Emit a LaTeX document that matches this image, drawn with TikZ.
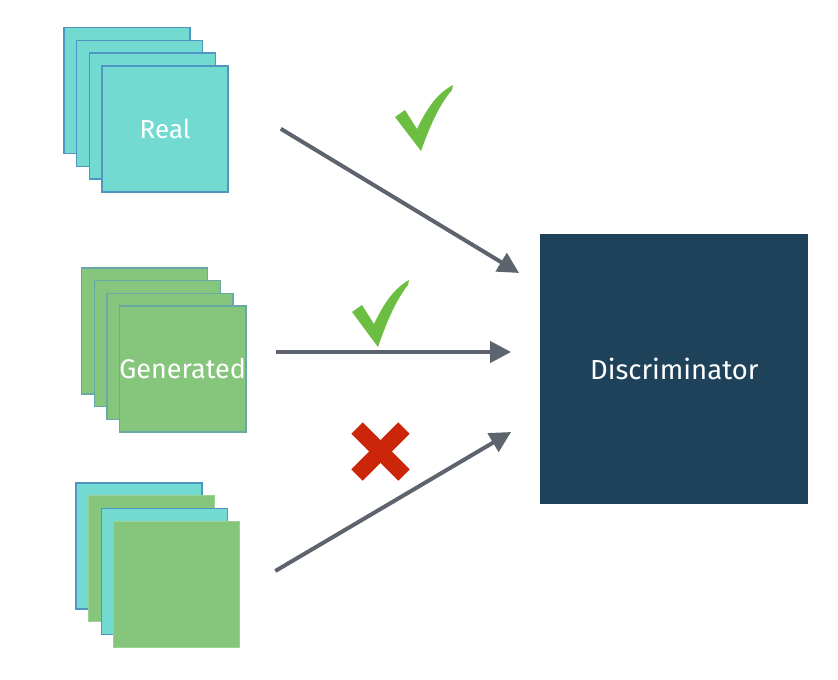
\documentclass[tikz,border=0pt]{standalone}
\usepackage{fontspec}
\setmainfont{Fira Sans}
\usepackage{tikz}
\usetikzlibrary{arrows.meta, calc}
\definecolor{realcyan}{RGB}{114,218,208}
\definecolor{fakegreen}{RGB}{134,198,124}
\definecolor{edgeblue}{RGB}{80,150,195}
\definecolor{discnavy}{RGB}{29,66,89}
\definecolor{arrowgray}{RGB}{94,100,110}
\definecolor{tickgreen}{RGB}{108,190,66}
\definecolor{crossred}{RGB}{204,38,10}

\begin{document}
\begin{tikzpicture}[x=1pt, y=-1pt, >={Triangle[length=21pt, width=21pt]}]
  \tikzstyle{realcard} = [rectangle, draw=edgeblue, line width=1.4pt, fill=realcyan, minimum size=126pt, inner sep=0pt, font=\fontsize{26}{30}\selectfont\color{white}]
  \tikzstyle{fakecard} = [rectangle, draw=edgeblue!60!fakegreen, line width=1.4pt, fill=fakegreen, minimum size=126pt, inner sep=0pt, font=\fontsize{27}{30}\selectfont\color{white}]
  \tikzstyle{mixcard} = [rectangle, draw=fakegreen!80!white, line width=1pt, fill=fakegreen, minimum size=126pt, inner sep=0pt]
  \tikzstyle{discbox} = [rectangle, fill=discnavy, minimum width=268pt, minimum height=270pt, inner sep=0pt, font=\fontsize{27.5}{30}\selectfont\color{white}]
  \tikzstyle{feed} = [->, line width=4pt, arrowgray]

  \useasboundingbox (0,0) rectangle (838,680);

  % real stack
  \node [realcard] (real1) at (127, 90.7) {};
  \node [realcard] (real2) at (139.7, 103.4) {};
  \node [realcard] (real3) at (152.4, 116.1) {};
  \node [realcard] (real4) at (165.1, 128.8) {Real};

  % generated stack
  \node [fakecard] (gen1) at (144.5, 330.8) {};
  \node [fakecard] (gen2) at (157.2, 343.5) {};
  \node [fakecard] (gen3) at (169.9, 356.2) {};
  \node [fakecard] (gen4) at (182.6, 368.9) {Generated};

  % mixed stack
  \node [realcard] (mix1) at (139, 545.8) {};
  \node [mixcard] (mix2) at (151.8, 558.8) {};
  \node [realcard] (mix3) at (164.2, 571.5) {};
  \node [mixcard] (mix4) at (176.8, 584) {};

  \node [discbox] (disc) at (674.3, 369) {Discriminator};

  \coordinate (realout) at ($(real4.east)+(52,0)$);
  \coordinate (genout) at ($(gen4.east)+(29,-16.9)$);
  \coordinate (mixout) at ($(mix4.east)+(35,-13)$);

  \draw [feed] (realout) -- ($(disc.west)+(-21,-96)$);
  \draw [feed] (genout) -- ($(disc.west)+(-29,-17)$);
  \draw [feed] (mixout) -- ($(disc.west)+(-29,63)$);

  % marks
  \fill [tickgreen] (395,117) -- (405,110) -- (417,129) .. controls (428,106) and (438,93) .. (453,85) -- (452,90) .. controls (440,104) and (431,123) .. (421,151) -- cycle;
  \fill [tickgreen] (352,312) -- (362,305) -- (374,324) .. controls (385,301) and (395,288) .. (409,280) -- (408,285) .. controls (397,299) and (388,318) .. (378,347) -- cycle;
  \draw [crossred, line width=16pt] (357,428) -- (404,475);
  \draw [crossred, line width=16pt] (404,428) -- (357,475);
\end{tikzpicture}
\end{document}
